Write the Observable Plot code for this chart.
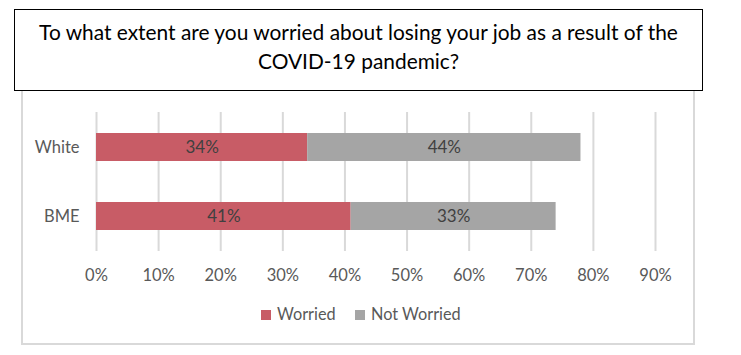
<!DOCTYPE html>
<html>
<head>
<meta charset="utf-8">
<script src="https://cdn.jsdelivr.net/npm/d3@7"></script>
<script src="https://cdn.jsdelivr.net/npm/@observablehq/plot@0.6"></script>
<style>
  html, body { margin: 0; padding: 0; background: #fff; }
  #wrap { position: relative; width: 741px; height: 355px; overflow: hidden; font-family: Lato, "Open Sans", sans-serif; }
  #frame { position: absolute; left: 21px; top: 84px; width: 670px; height: 257px; border: 2px solid #D9D9D9; }
  #title { position: absolute; left: 14px; top: 9px; width: 689px; border: 1.5px solid #000; background: #fff; z-index: 3;
           text-align: center; font-size: 20.9px; line-height: 29px; color: #000; padding-top: 7px; box-sizing: border-box; height: 82px; }
  #chart { position: absolute; left: 0; top: 95px; z-index: 2; }
  #legend { position: absolute; top: 303px; left: 0; width: 741px; z-index: 2; font-size: 16.3px; color: #595959; }
  .li { position: absolute; top: 0; line-height: 22px; white-space: nowrap; }
  .sw { display: inline-block; width: 10px; height: 10px; margin-right: 6px; vertical-align: 0px; }
</style>
</head>
<body>
<div id="wrap">
  <div id="frame"></div>
  <div id="title">To what extent are you worried about losing your job as a result of the<br>COVID-19 pandemic?</div>
  <div id="chart"></div>
  <div id="legend"></div>
</div>
<script>
const groups = ["White", "BME"];
const seriesNames = ["Worried", "Not Worried"];
const worried = [0.34, 0.41];
const notWorried = [0.44, 0.33];
const seriesColors = ["#C85C66", "#A5A5A5"];
const xTicks = [0, 0.1, 0.2, 0.3, 0.4, 0.5, 0.6, 0.7, 0.8, 0.9];

const rows = [];
groups.forEach((g, i) => {
  rows.push({group: g, series: seriesNames[0], value: worried[i]});
  rows.push({group: g, series: seriesNames[1], value: notWorried[i]});
});

const font = getComputedStyle(document.getElementById("wrap")).fontFamily;
const pct = d => Math.round(d * 100) + "%";

const chart = Plot.plot({
  width: 741,
  height: 191,
  marginLeft: 96,
  marginRight: 86,
  marginTop: 17,
  marginBottom: 35,
  style: {fontFamily: font, fontSize: "16.5px", color: "#595959", background: "transparent", overflow: "visible"},
  x: {domain: [0, 0.9], ticks: xTicks, tickFormat: pct, label: null},
  y: {domain: groups, paddingInner: 0.6, paddingOuter: 0.3, label: null},
  color: {domain: seriesNames, range: seriesColors},
  marks: [
    Plot.gridX(xTicks, {stroke: "#D9D9D9", strokeOpacity: 1, strokeWidth: 2}),
    Plot.axisX({ticks: xTicks, tickSize: 0, tickPadding: 18, tickFormat: pct, label: null, fill: "#595959", fontSize: 16.5}),
    Plot.axisY({tickSize: 0, tickPadding: 17, label: null, fill: "#595959", fontSize: 16.5}),
    Plot.barX(rows, {x: "value", y: "group", fill: "series", order: seriesNames}),
    Plot.text(rows, Plot.stackX({x: "value", y: "group", z: "series", order: seriesNames,
      text: d => pct(d.value), fill: "#404040", fontSize: 17}))
  ]
});
document.getElementById("chart").appendChild(chart);

const legend = document.getElementById("legend");
const legendX = [261, 355];
seriesNames.forEach((s, i) => {
  const el = document.createElement("span");
  el.className = "li";
  el.style.left = legendX[i] + "px";
  el.innerHTML = `<span class="sw" style="background:${seriesColors[i]}"></span>${s}`;
  legend.appendChild(el);
});
</script>
</body>
</html>
